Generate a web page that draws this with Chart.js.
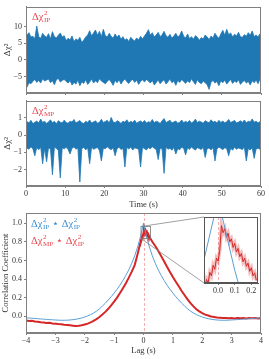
<!DOCTYPE html>
<html><head><meta charset="utf-8">
<script src="https://cdn.jsdelivr.net/npm/chart.js@4/dist/chart.umd.min.js"></script>
<style>
html,body{margin:0;padding:0;background:#fff;}
body{width:269px;height:359px;position:relative;overflow:hidden;}
canvas{position:absolute;}
</style></head><body>
<canvas id="c1" width="269" height="100" style="left:0px;top:0px"></canvas>
<canvas id="c2" width="269" height="122" style="left:0px;top:94px"></canvas>
<canvas id="c3" width="269" height="154" style="left:0px;top:205px"></canvas>
<canvas id="c4" width="135" height="95" style="left:130px;top:205px"></canvas>
<script>
// ---------- DATA ----------
// Δχ²_IP envelope per 0.5 s bin (max / min)
const ipHi = [7.5,8.2,6.9,7.1,6.4,10.2,7.0,6.5,8.0,7.2, 6.8,7.9,6.3,8.5,7.0,6.6,7.4,8.1,6.9,7.3,
  5.8,6.5,6.0,7.2,5.5,6.3,5.9,6.8,5.2,6.0, 6.9,7.5,8.8,7.2,8.1,9.0,7.4,8.6,7.0,9.2,
  7.3,6.9,8.0,7.1,6.5,7.8,6.8,7.5,6.2,7.0, 5.9,6.4,5.5,6.8,6.1,5.7,6.6,6.0,7.1,6.3,
  7.2,8.0,9.1,7.4,8.2,6.9,7.5,8.3,7.0,7.6, 8.6,7.3,6.8,7.7,6.5,7.2,8.0,6.9,7.4,8.7,
  7.1,6.6,7.8,6.4,7.0,6.2,7.3,6.8,5.9,6.7, 6.3,7.5,6.9,6.1,7.2,6.6,8.0,7.1,6.5,7.8,
  8.9,7.4,9.2,7.6,8.1,6.9,7.7,7.2,8.3,7.0, 6.8,7.6,7.1,8.2,7.4,8.7,7.0,7.5,6.9,7.9];
const ipLo = [-8.3,-6.9,-7.2,-6.5,-5.9,-6.8,-6.2,-7.0,-5.7,-6.4, -6.1,-5.8,-6.9,-6.3,-7.5,-6.0,-5.6,-6.7,-6.2,-5.9,
  -6.5,-7.0,-6.2,-7.6,-6.8,-7.3,-6.1,-7.8,-6.6,-7.1, -6.0,-7.4,-6.7,-5.8,-7.0,-6.3,-6.9,-5.7,-6.4,-6.8,
  -7.2,-6.5,-5.9,-6.7,-7.7,-6.2,-6.9,-6.0,-7.3,-6.4, -5.8,-6.6,-7.1,-6.3,-5.9,-6.8,-6.1,-7.4,-6.5,-6.0,
  -6.7,-5.9,-6.4,-7.0,-6.2,-7.6,-6.8,-6.1,-7.2,-6.5, -6.0,-7.3,-6.6,-5.8,-6.9,-6.4,-7.7,-6.2,-6.8,-5.9,
  -6.5,-7.1,-6.3,-6.9,-5.7,-6.6,-7.4,-6.0,-6.8,-7.2, -6.4,-6.9,-7.5,-8.9,-6.7,-6.2,-7.0,-6.5,-7.8,-6.3,
  -6.9,-6.1,-7.3,-6.6,-5.9,-7.1,-6.4,-6.8,-6.0,-7.4, -6.7,-6.2,-7.0,-6.5,-7.6,-6.3,-6.9,-6.1,-7.2,-5.8];
// Δχ²_MP envelope per 0.5 s bin
const mpHi = [0.78,0.70,0.85,0.66,0.74,0.81,0.69,0.92,0.73,0.80, 0.67,0.76,0.88,0.71,0.79,0.65,0.83,0.74,0.70,0.86,
  0.72,0.68,0.80,0.75,0.90,0.69,0.77,0.84,0.71,0.66, 0.79,0.73,0.87,0.70,0.76,0.82,0.68,0.74,0.91,0.72,
  0.78,0.85,0.69,1.02,0.75,0.71,0.83,0.77,0.67,0.80, 0.74,0.88,0.70,0.79,0.73,0.86,0.68,0.76,0.81,0.72,
  0.84,0.69,0.77,0.73,0.90,0.71,0.80,0.75,0.67,0.83, 0.95,0.72,0.78,0.86,0.70,0.76,0.81,0.68,0.74,0.87,
  0.71,0.79,0.73,0.84,0.69,0.77,0.92,0.72,0.80,0.75, 0.68,0.83,0.76,0.71,0.88,0.74,0.79,0.70,0.85,0.73,
  0.81,0.69,0.77,0.90,0.72,0.78,0.84,0.70,0.75,0.82, 0.73,0.87,0.71,0.79,0.76,0.93,0.74,0.80,0.70,0.78];
const mpLo = [-0.75,-0.82,-0.68,-0.79,-1.20,-0.72,-0.85,-0.70,-1.66,-0.77, -1.55,-0.74,-0.81,-2.30,-0.69,-0.78,-0.88,-2.48,-0.73,-0.80,
  -0.71,-0.84,-1.10,-0.76,-0.69,-0.82,-0.75,-2.72,-0.79,-0.71, -0.86,-0.74,-1.66,-0.70,-0.83,-0.77,-0.72,-0.89,-1.50,-0.75,
  -0.80,-0.68,-0.78,-0.85,-0.73,-1.20,-0.79,-0.70,-0.84,-0.76, -1.85,-0.72,-0.81,-0.69,-0.87,-0.74,-0.78,-0.83,-1.85,-0.71,
  -0.79,-0.86,-0.73,-0.80,-0.68,-0.77,-0.84,-1.42,-0.75,-0.81, -2.22,-0.70,-0.82,-0.76,-0.88,-0.72,-1.10,-0.79,-0.85,-0.71,
  -0.77,-1.15,-0.74,-0.83,-0.69,-0.80,-0.87,-0.73,-0.78,-0.84, -0.71,-1.30,-0.79,-0.75,-0.86,-0.72,-1.50,-0.81,-0.70,-0.77,
  -0.85,-0.73,-0.80,-1.20,-0.76,-0.88,-0.71,-0.82,-0.75,-0.79, -0.84,-0.70,-1.50,-0.78,-0.86,-0.73,-1.35,-0.81,-0.76,-0.83];
const binSize = 0.5;
const timeTicks = [0,10,20,30,40,50,60];
const ipTicks = [-5,0,5,10];
const mpTicks = [-2,-1,0,1];

// Correlations
const lags = [-4.0,-3.9,-3.8,-3.7,-3.6,-3.5,-3.4,-3.3,-3.2,-3.1,-3.0,-2.9,-2.8,-2.7,-2.6,-2.5,-2.4,-2.3,-2.2,-2.1,
  -2.0,-1.9,-1.8,-1.7,-1.6,-1.5,-1.4,-1.3,-1.2,-1.1,-1.0,-0.9,-0.8,-0.7,-0.6,-0.5,-0.4,-0.3,-0.2,-0.1,
  0.0,0.1,0.2,0.3,0.4,0.5,0.6,0.7,0.8,0.9,1.0,1.1,1.2,1.3,1.4,1.5,1.6,1.7,1.8,1.9,
  2.0,2.1,2.2,2.3,2.4,2.5,2.6,2.7,2.8,2.9,3.0,3.1,3.2,3.3,3.4,3.5,3.6,3.7,3.8,3.9,4.0];
const autoIP = [-0.017,-0.019,-0.021,-0.024,-0.026,-0.029,-0.031,-0.034,-0.036,-0.038,-0.040,-0.042,-0.043,-0.043,-0.042,-0.040,-0.037,-0.032,-0.026,-0.018,
  -0.008,0.004,0.018,0.035,0.055,0.080,0.110,0.140,0.175,0.210,0.250,0.290,0.335,0.385,0.440,0.500,0.570,0.650,0.745,0.860,
  1.000,0.860,0.745,0.650,0.570,0.500,0.440,0.385,0.335,0.290,0.250,0.210,0.175,0.140,0.110,0.080,0.055,0.035,0.018,0.004,
  -0.008,-0.018,-0.026,-0.032,-0.037,-0.040,-0.042,-0.043,-0.043,-0.042,-0.040,-0.038,-0.036,-0.034,-0.031,-0.029,-0.026,-0.024,-0.021,-0.019,-0.017];
const crossMP = [-0.045,-0.052,-0.048,-0.057,-0.058,-0.064,-0.066,-0.072,-0.071,-0.078,-0.080,-0.084,-0.086,-0.091,-0.093,-0.097,-0.101,-0.105,-0.102,-0.097,
  -0.088,-0.079,-0.066,-0.050,-0.030,-0.008,0.018,0.047,0.080,0.116,0.158,0.200,0.250,0.300,0.355,0.415,0.480,0.550,0.670,0.800,
  0.885,0.905,0.862,0.800,0.755,0.705,0.648,0.592,0.532,0.477,0.422,0.370,0.322,0.272,0.226,0.182,0.141,0.106,0.076,0.052,
  0.033,0.018,0.008,-0.003,-0.007,-0.014,-0.015,-0.019,-0.018,-0.022,-0.019,-0.023,-0.020,-0.022,-0.018,-0.023,-0.020,-0.022,-0.019,-0.023,-0.021];
// fine-resolution cross-correlation near the peak (inset)
const insetLags = [-0.08,-0.07,-0.06,-0.05,-0.04,-0.03,-0.02,-0.01,0.00,0.01,0.02,0.03,0.04,0.05,0.06,0.07,0.08,0.09,0.10,
  0.11,0.12,0.13,0.14,0.15,0.16,0.17,0.18,0.19,0.20,0.21,0.22,0.23];
const insetMP = [0.826,0.842,0.835,0.856,0.849,0.870,0.862,0.884,0.878,0.900,0.948,0.934,0.942,0.925,0.933,0.916,0.922,0.905,0.913,
  0.896,0.903,0.887,0.893,0.877,0.884,0.868,0.874,0.858,0.865,0.849,0.855,0.840];
const lagTicks = [-4,-3,-2,-1,0,1,2,3,4];
const corrTicks = [0.0,0.2,0.4,0.6,0.8,1.0];
const insetTicks = [0.0,0.1,0.2];
const insetX = [-0.085, 0.24];
const insetY = [0.835, 0.965];

// ---------- STYLE ----------
const FONT = '"Liberation Serif", "DejaVu Serif", serif';
Chart.defaults.font.family = FONT;
Chart.defaults.font.size = 8;
Chart.defaults.color = '#333';
const AX = '#808080';
const BLUE = '#1f77b4', LBLUE = '#5a9fd4', RED = '#d62728', LRED = '#e8484d';

function env(arr){ return arr.map((v,i)=>({x:i*binSize + binSize*0.5, y:v})); }
function bandSets(hi, lo){
  return [
    {data:env(hi), borderColor:BLUE, borderWidth:0.8, pointRadius:0, tension:0, fill:false},
    {data:env(lo), borderColor:BLUE, borderWidth:0.8, pointRadius:0, tension:0, fill:'-1', backgroundColor:BLUE}
  ];
}
function minus(v){ return String(v).replace('-', '\u2212'); }
function drawMath(ctx, x, y, parts, size, color){
  ctx.save(); ctx.fillStyle = color; ctx.textBaseline = 'alphabetic'; ctx.textAlign='left';
  for (const p of parts){
    ctx.font = size + 'px ' + FONT;
    ctx.fillText(p.t, x, y); x += ctx.measureText(p.t).width;
    if (p.sup || p.sub){
      ctx.font = (size*0.68) + 'px ' + FONT;
      let w = 0;
      if (p.sup){ ctx.fillText(p.sup, x+0.5, y - size*0.45); w = Math.max(w, ctx.measureText(p.sup).width); }
      if (p.sub){ ctx.fillText(p.sub, x+0.5, y + size*0.2); w = Math.max(w, ctx.measureText(p.sub).width); }
      x += w + 0.8;
    }
  }
  ctx.restore();
}
const frame = (color) => ({
  id:'frame',
  afterDraw(chart){
    const a = chart.chartArea, ctx = chart.ctx;
    ctx.save(); ctx.strokeStyle = color; ctx.lineWidth = 1;
    ctx.strokeRect(Math.round(a.left)+0.5, Math.round(a.top)+0.5, Math.round(a.right-a.left)-1, Math.round(a.bottom-a.top)-1);
    ctx.restore();
  }
});
function gridOpts(len){ return {drawOnChartArea:false, drawTicks:true, tickLength:len, color:AX}; }
function fixedTicks(list){ return function(s){ s.ticks = list.map(v=>({value:v})); }; }

// ---------- PANEL 1 ----------
const labelIP = [{t:'\u0394\u03c7', sup:'2', sub:'IP'}];
const labelMP = [{t:'\u0394\u03c7', sup:'2', sub:'MP'}];
new Chart(document.getElementById('c1'), {
  type:'line',
  data:{datasets:bandSets(ipHi, ipLo)},
  options:{animation:false, responsive:false, devicePixelRatio:1,
    layout:{padding:{top:4,right:8,left:0,bottom:0}},
    plugins:{legend:{display:false}, tooltip:{enabled:false}, filler:{propagate:false}},
    scales:{
      x:{type:'linear', min:0, max:60, afterBuildTicks:fixedTicks(timeTicks), ticks:{display:false},
         grid:gridOpts(2), border:{color:AX}, afterFit(s){ s.height = 7; }},
      y:{type:'linear', min:-10, max:16, afterBuildTicks:fixedTicks(ipTicks),
         ticks:{padding:2, callback:minus}, grid:gridOpts(2), border:{color:AX},
         title:{display:true, text:'\u0394\u03c7\u00b2', font:{size:9}, padding:{top:2,bottom:0}},
         afterFit(s){ s.width = 26; }}
    }},
  plugins:[frame(AX), {id:'lbl', afterDraw(c){ drawMath(c.ctx, c.chartArea.left+6, c.chartArea.top+13, labelIP, 10.5, LRED); }}]
});

// ---------- PANEL 2 ----------
new Chart(document.getElementById('c2'), {
  type:'line',
  data:{datasets:bandSets(mpHi, mpLo)},
  options:{animation:false, responsive:false, devicePixelRatio:1,
    layout:{padding:{top:3,right:8,left:0,bottom:0}},
    plugins:{legend:{display:false}, tooltip:{enabled:false}},
    scales:{
      x:{type:'linear', min:0, max:60, afterBuildTicks:fixedTicks(timeTicks), ticks:{padding:1, maxRotation:0},
         grid:gridOpts(2), border:{color:AX},
         title:{display:true, text:'Time (s)', font:{size:8.5}, padding:{top:0,bottom:6}},
         afterFit(s){ s.height = 30; }},
      y:{type:'linear', min:-2.95, max:1.98, afterBuildTicks:fixedTicks(mpTicks),
         ticks:{padding:2, callback:minus}, grid:gridOpts(2), border:{color:AX},
         title:{display:true, text:'\u0394\u03c7\u00b2', font:{size:9}, padding:{top:2,bottom:0}},
         afterFit(s){ s.width = 26; }}
    }},
  plugins:[frame(AX), {id:'lbl', afterDraw(c){ drawMath(c.ctx, c.chartArea.left+6, c.chartArea.top+13, labelMP, 10.5, LRED); }}]
});

// ---------- PANEL 3 (correlations) ----------
const redPts = [];
lags.forEach((l,i)=>{ if (l < insetLags[0] || l > insetLags[insetLags.length-1]) redPts.push({x:l, y:crossMP[i]}); });
insetLags.forEach((l,i)=> redPts.push({x:l, y:insetMP[i]}));
redPts.sort((a,b)=>a.x-b.x);
const bluePts = lags.map((l,i)=>({x:l, y:autoIP[i]}));
const zeroLine = {id:'zero', beforeDatasetsDraw(c){
  const x = c.scales.x.getPixelForValue(0), a = c.chartArea, ctx = c.ctx;
  ctx.save(); ctx.strokeStyle = 'rgba(230,80,80,0.45)'; ctx.lineWidth = 1; ctx.setLineDash([3,2]);
  ctx.beginPath(); ctx.moveTo(Math.round(x)+0.5, a.top); ctx.lineTo(Math.round(x)+0.5, a.bottom); ctx.stroke(); ctx.restore();
}};
const legIP = [{t:'\u0394\u03c7', sup:'2', sub:'IP'}, {t:' \u22c6 '}, {t:'\u0394\u03c7', sup:'2', sub:'IP'}];
const legMP = [{t:'\u0394\u03c7', sup:'2', sub:'MP'}, {t:' \u22c6 '}, {t:'\u0394\u03c7', sup:'2', sub:'IP'}];
const main = new Chart(document.getElementById('c3'), {
  type:'line',
  data:{datasets:[
    {data:bluePts, borderColor:LBLUE, borderWidth:1, pointRadius:0, tension:0},
    {data:redPts, borderColor:RED, borderWidth:2, pointRadius:0, tension:0}
  ]},
  options:{animation:false, responsive:false, devicePixelRatio:1,
    layout:{padding:{top:8,right:8,left:0,bottom:0}},
    plugins:{legend:{display:false}, tooltip:{enabled:false}},
    scales:{
      x:{type:'linear', min:-4, max:4, afterBuildTicks:fixedTicks(lagTicks), ticks:{padding:1, maxRotation:0, callback:minus},
         grid:gridOpts(2), border:{color:AX},
         title:{display:true, text:'Lag (s)', font:{size:8.5}, padding:{top:0,bottom:3}},
         afterFit(s){ s.height = 26; }},
      y:{type:'linear', min:-0.18, max:1.11, afterBuildTicks:fixedTicks(corrTicks),
         ticks:{padding:2, callback:(v)=>minus(v.toFixed(1))}, grid:gridOpts(2), border:{color:AX},
         title:{display:true, text:'Correlation Coefficient', font:{size:8.5}, padding:{top:1,bottom:0}},
         afterFit(s){ s.width = 26; }}
    }},
  plugins:[zeroLine, frame(AX), {id:'rect', afterDraw(c){
      const ctx = c.ctx, xs = c.scales.x, ys = c.scales.y;
      const x0 = xs.getPixelForValue(insetX[0]), x1 = xs.getPixelForValue(insetX[1]);
      const y0 = ys.getPixelForValue(insetY[1]), y1 = ys.getPixelForValue(insetY[0]);
      ctx.save(); ctx.strokeStyle = '#777'; ctx.lineWidth = 0.8;
      ctx.strokeRect(x0, y0, x1-x0, y1-y0); ctx.restore();
      drawMath(ctx, c.chartArea.left+5, c.chartArea.top+14, legIP, 10.5, '#3a8fd0');
      drawMath(ctx, c.chartArea.left+5, c.chartArea.top+31, legMP, 10.5, LRED);
    }}]
});

// ---------- INSET ----------
const C3 = {left:0, top:205}, C4 = {left:130, top:205};
const insetRedPts = insetLags.map((l,i)=>({x:l, y:insetMP[i]}));
new Chart(document.getElementById('c4'), {
  type:'line',
  data:{datasets:[
    {data:bluePts, borderColor:LBLUE, borderWidth:1, pointRadius:0, tension:0},
    {data:insetRedPts, borderColor:'rgba(214,39,40,0.3)', borderWidth:3.5, pointRadius:0, tension:0},
    {data:insetRedPts, borderColor:RED, borderWidth:1, pointRadius:0, tension:0}
  ]},
  options:{animation:false, responsive:false, devicePixelRatio:1,
    layout:{padding:{top:12,right:7,left:74,bottom:0}},
    plugins:{legend:{display:false}, tooltip:{enabled:false}},
    scales:{
      x:{type:'linear', min:insetX[0], max:insetX[1], afterBuildTicks:fixedTicks(insetTicks),
         ticks:{padding:1, maxRotation:0, callback:(v)=>v.toFixed(1)},
         grid:gridOpts(2), border:{color:'#555'}, afterFit(s){ s.height = 17; }},
      y:{type:'linear', display:false, min:insetY[0], max:insetY[1]}
    }},
  plugins:[
    {id:'bg', beforeDraw(c){ const a=c.chartArea; c.ctx.save(); c.ctx.fillStyle='#fff'; c.ctx.fillRect(a.left,a.top,a.right-a.left,a.bottom-a.top); c.ctx.restore(); }},
    zeroLine, frame('#555'),
    {id:'conn', afterDraw(c){
      const ctx = c.ctx, a = c.chartArea, xs = main.scales.x, ys = main.scales.y;
      const dx = C3.left - C4.left, dy = C3.top - C4.top;
      const rx = xs.getPixelForValue(insetX[0]) + dx;
      const rt = ys.getPixelForValue(insetY[1]) + dy, rb = ys.getPixelForValue(insetY[0]) + dy;
      ctx.save(); ctx.strokeStyle = '#888'; ctx.lineWidth = 0.8;
      ctx.beginPath(); ctx.moveTo(rx, rt); ctx.lineTo(a.left, a.top);
      ctx.moveTo(rx, rb); ctx.lineTo(a.left, a.bottom); ctx.stroke(); ctx.restore();
    }}]
});
</script>
</body></html>
